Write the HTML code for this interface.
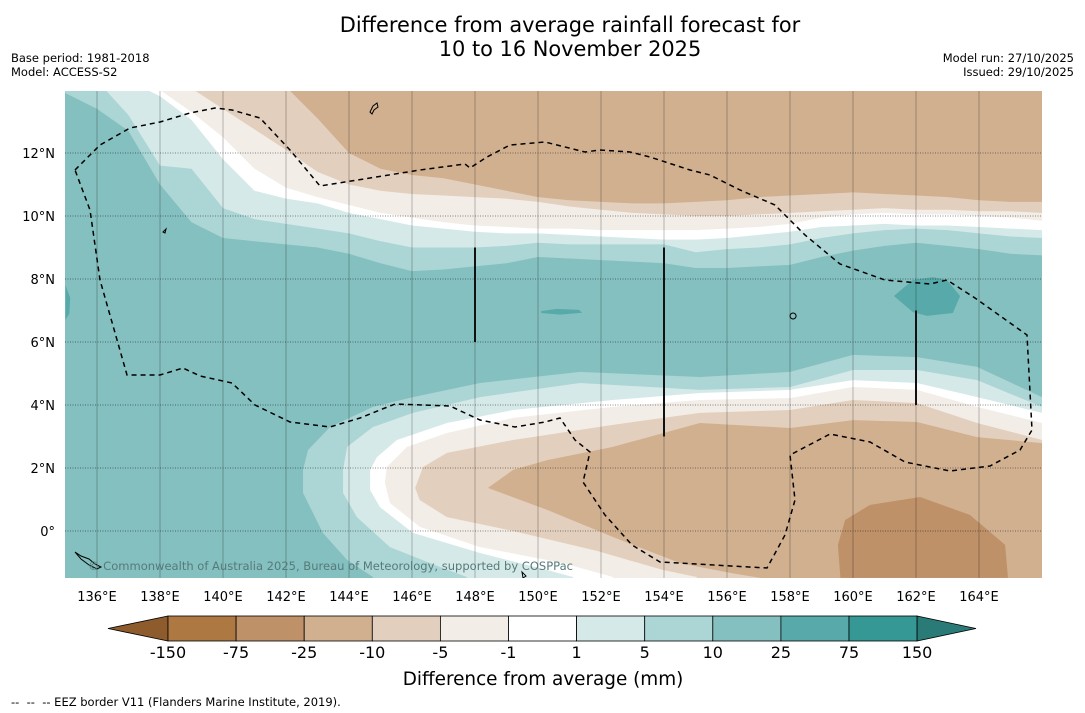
<!DOCTYPE html>
<html><head><meta charset="utf-8">
<style>
body{margin:0;background:#fff;font-family:"DejaVu Sans","Liberation Sans",sans-serif;}
#wrap{position:relative;width:1085px;height:713px;overflow:hidden;background:#fff;}
.t{position:absolute;white-space:nowrap;color:#000;}
</style></head>
<body>
<div id="wrap">
<div class="t" style="left:0;width:1140px;top:14px;text-align:center;font-size:20.9px;line-height:23.5px;">Difference from average rainfall forecast for<br>10 to 16 November 2025</div>
<div class="t" style="left:11px;top:51px;font-size:11.5px;line-height:14px;">Base period: 1981-2018<br>Model: ACCESS-S2</div>
<div class="t" style="right:11px;top:51px;font-size:11.5px;line-height:14px;text-align:right;">Model run: 27/10/2025<br>Issued: 29/10/2025</div>
<svg id="map" width="1085" height="713" style="position:absolute;left:0;top:0;"></svg>
<div class="t" style="left:11px;top:695px;font-size:11.5px;">--&nbsp; --&nbsp; -- EEZ border V11 (Flanders Marine Institute, 2019).</div>
</div>
<script>
const lons=[135,136,137,138,139,140,141,142,143,144,145,146,147,148,149,150,151,152,153,154,155,156,157,158,159,160,161,162,163,164,165,166];
const north10=[13.9,13.4,12.7,11.0,9.8,9.3,9.2,9.1,9.0,8.8,8.5,8.25,8.3,8.4,8.5,8.7,8.65,8.6,8.55,8.5,8.35,8.35,8.4,8.45,8.7,8.9,9.05,9.15,9.05,8.95,8.8,8.75];
const north5=[15,14.3,13.2,11.6,11.5,10.25,9.9,9.75,9.6,9.45,9.2,9.0,9.0,9.0,9.05,9.15,9.1,9.1,9.1,9.1,8.85,8.95,9.0,9.1,9.3,9.45,9.55,9.6,9.55,9.45,9.35,9.3];
const north1=[15,14.8,14.3,13.8,13.05,11.8,10.8,10.55,10.4,10.1,9.9,9.7,9.6,9.5,9.45,9.45,9.4,9.35,9.3,9.25,9.25,9.3,9.4,9.5,9.65,9.7,9.75,9.7,9.7,9.65,9.6,9.55];
const northM1=[15,15,14.6,14.0,13.3,12.5,11.5,10.9,10.6,10.35,10.1,9.95,9.8,9.7,9.65,9.6,9.6,9.55,9.55,9.55,9.55,9.6,9.65,9.75,9.95,10.05,10.1,10.05,10.05,10.0,9.95,9.85];
const northM5=[15.5,15.3,15,14.6,14.05,13.4,12.75,12.1,11.4,11.0,10.8,10.7,10.65,10.6,10.55,10.45,10.3,10.2,10.1,10.05,10.0,10.0,10.05,10.1,10.15,10.2,10.25,10.2,10.2,10.15,10.15,10.1];
const northM10=[16,16,16,16,16,16,16,14.1,13.1,12.0,11.5,11.3,11.2,11.0,10.8,10.6,10.5,10.45,10.4,10.4,10.45,10.5,10.6,10.65,10.7,10.75,10.7,10.65,10.6,10.5,10.45,10.45];
const south10=[[144.76,-1.46],[143.94,-0.92],[143.17,-0.06],[142.54,1.21],[142.54,1.94],[142.7,2.57],[143.4,3.3],[144.76,3.94],[146.03,4.25],[148.16,4.7],[151.33,5.05],[155.14,4.89],[158,5.05],[160,5.59],[162.03,5.52],[163.94,5.21],[166,4.25]];
const south5=[[147.74,-1.46],[146.88,-1.14],[145.3,-0.51],[144.25,0.44],[143.81,1.21],[143.81,1.94],[143.94,2.67],[144.76,3.3],[146.03,3.75],[148.16,4.25],[151.33,4.7],[155.14,4.48],[158,4.57],[160,5.11],[162.03,5.11],[163.94,4.79],[166,3.94]];
const south1=[[151.11,-1.46],[150.29,-1.24],[148.16,-0.7],[146.03,-0.06],[144.98,0.76],[144.67,1.3],[144.67,1.94],[144.89,2.35],[145.52,2.89],[147.11,3.43],[149.21,3.84],[152.38,4.16],[155.14,4.38],[158,4.48],[160,4.79],[162.03,4.7],[163.94,4.25],[166,3.75]];
const southM1=[[152.38,-1.46],[150.79,-1.02],[148.16,-0.51],[146.25,0.13],[145.3,0.89],[145.14,1.52],[145.2,2.03],[145.84,2.67],[147.11,3.11],[149.21,3.59],[152.38,3.94],[155.14,4.16],[158,4.22],[160,4.57],[162.03,4.48],[163.94,3.94],[166,3.43]];
const southM5=[[155.04,-1.46],[153.97,-1.24],[151.87,-0.63],[149.21,0],[147.11,0.44],[146.25,0.98],[146.1,1.37],[146.35,2.03],[147.11,2.48],[149.21,2.89],[152.38,3.37],[155.14,3.75],[158,3.84],[160,4.16],[162.03,4.06],[163.94,3.43],[166,2.89]];
const southM10=[[157.05,-1.49],[156.1,-1.33],[154.51,-1.02],[152.38,-0.19],[150.29,0.67],[148.41,1.37],[149.21,1.94],[150.29,2.25],[152.38,2.67],[155.14,3.43],[158,3.27],[160,3.52],[162.03,3.46],[163.94,2.98],[166,2.79]];
const blobM25=[[159.6,-1.49],[159.52,-0.44],[159.75,0.35],[160.54,0.83],[162.13,1.08],[163.71,0.51],[164.83,-0.44],[164.92,-1.49]];
const blob25=[[161.3,7.46],[161.9,7.97],[162.54,8.06],[162.98,7.97],[163.4,7.46],[163.17,6.92],[162.35,6.83],[161.9,6.95]];
const blob25b=[[150.1,6.98],[150.6,7.05],[151.3,7.02],[151.4,6.93],[150.7,6.87],[150.1,6.92]];
const blob25c=[[135,7.8],[135.15,7.4],[135.12,6.9],[135,6.7]];
const xTicks=[136,138,140,142,144,146,148,150,152,154,156,158,160,162,164];
const yTicks=[0,2,4,6,8,10,12];
const yTickLabels=["0°","2°N","4°N","6°N","8°N","10°N","12°N"];
const cbLevels=["-150","-75","-25","-10","-5","-1","1","5","10","25","75","150"];
const cbColors=["#ad7842","#bf9168","#d1b090","#e3cfbd","#f3ede7","#ffffff","#d5e9e8","#acd5d5","#84c0bf","#58a9a9","#369894"];
const eezLines=[[148,9,6],[154,9,3],[162,7,4]];

const FONT='DejaVu Sans, Liberation Sans, sans-serif';
const X=lon=>65.5+(lon-135)*31.5;
const Y=lat=>531-lat*31.5;
const NS="http://www.w3.org/2000/svg";
const svg=document.getElementById('map');
function mk(tag,attrs,parent){const e=document.createElementNS(NS,tag);for(const k in attrs)e.setAttribute(k,attrs[k]);(parent||svg).appendChild(e);return e;}

const defs=mk('defs',{});
const cp=mk('clipPath',{id:'clip'},defs);
mk('rect',{x:65,y:91,width:977,height:487},cp);
const g=mk('g',{'clip-path':'url(#clip)'});


const bg=mk('rect',{x:65,y:91,width:977,height:487,fill:'#84c0bf'},g);



function northPoly(arr,color,name){
  let pts=lons.map((l,i)=>X(l)+','+Y(arr[i]));
  pts.push(X(167)+','+Y(17),X(134)+','+Y(17));
  const p=mk('polygon',{points:pts.join(' '),fill:color},g);
  
  
}
function poly(arr,color,name,closeBottom){
  let pts=arr.map(q=>X(q[0])+','+Y(q[1]));
  if(closeBottom){pts.push(X(167)+','+Y(arr[arr.length-1][1]),X(167)+','+Y(-3),X(arr[0][0])+','+Y(-3));}
  const p=mk('polygon',{points:pts.join(' '),fill:color},g);
  
  
}
northPoly(north10,'#acd5d5','north-band-5-10');
northPoly(north5,'#d5e9e8','north-band-1-5');
northPoly(north1,'#ffffff','north-band-neutral');
northPoly(northM1,'#f3ede7','north-band-minus1-5');
northPoly(northM5,'#e3cfbd','north-band-minus5-10');
northPoly(northM10,'#d1b090','north-band-minus10-25');
poly(south10,'#acd5d5','south-band-5-10',true);
poly(south5,'#d5e9e8','south-band-1-5',true);
poly(south1,'#ffffff','south-band-neutral',true);
poly(southM1,'#f3ede7','south-band-minus1-5',true);
poly(southM5,'#e3cfbd','south-band-minus5-10',true);
poly(southM10,'#d1b090','south-band-minus10-25',true);
poly(blobM25,'#bf9168','south-band-minus25-75',false);
poly(blob25,'#58a9a9','wet-blob-east',false);
poly(blob25b,'#58a9a9','wet-blob-central',false);
poly(blob25c,'#58a9a9','wet-blob-west',false);

xTicks.forEach(l=>{const ln=mk('line',{x1:X(l),x2:X(l),y1:91,y2:578,stroke:'rgba(0,0,0,0.25)','stroke-width':1},g);

});
yTicks.forEach(l=>{const ln=mk('line',{x1:65,x2:1042,y1:Y(l),y2:Y(l),stroke:'rgba(0,0,0,0.45)','stroke-width':1,'stroke-dasharray':'1,1.5'},g);

});

const eez=mk('path',{d:'M75,170 L100,145 L130,128 L160,122 L190,113 L215,108 L232,110 L260,118 L290,150 L320,186 L370,178 L420,170 L465,164 L470,168 L487,157 L510,145 L545,142 L585,152 L600,150 L630,152 L650,157 L690,170 L710,175 L740,190 L775,205 L805,235 L840,264 L885,280 L930,284 L947,280 L975,298 L1027,335 L1032,430 L1020,450 L990,466 L950,471 L905,462 L870,442 L830,434 L790,455 L795,500 L785,535 L767,568 L660,562 L632,545 L605,515 L583,482 L590,452 L575,440 L560,418 L545,422 L515,427 L480,420 L450,406 L395,404 L360,418 L330,427 L290,422 L255,405 L232,383 L200,376 L183,368 L160,375 L127,375 L100,280 L90,210 Z',fill:'none',stroke:'#000','stroke-width':1.5,'stroke-dasharray':'5,4'},g);


eezLines.forEach(e=>{const ln=mk('line',{x1:X(e[0]),x2:X(e[0]),y1:Y(e[1]),y2:Y(e[2]),stroke:'#111','stroke-width':2},g);

});
const isl=mk('path',{d:'M370,112 l3,-6 l4,-3 l1,4 l-4,3 l-2,4 z M793,313 a3,3 0 1,0 0.1,0 M163,232 l3,-3 l-1,4 z M75,552 l6,4 l8,3 l6,5 l6,3 l-4,2 l-8,-4 l-8,-6 z M522,572 l4,4 l-3,2 z',fill:'none',stroke:'#000','stroke-width':1},g);



const cr=mk('text',{x:88,y:570,'font-size':11.5,fill:'#567a7a','font-family':FONT,textLength:485,lengthAdjust:'spacingAndGlyphs'},g);
cr.textContent='© Commonwealth of Australia 2025, Bureau of Meteorology, supported by COSPPac';



xTicks.forEach(l=>{const t=mk('text',{x:X(l),y:601,'font-size':13,'text-anchor':'middle','font-family':FONT});
t.textContent=l+'°E';

});
yTicks.forEach((l,i)=>{const t=mk('text',{x:55,y:Y(l)+5,'font-size':13,'text-anchor':'end','font-family':FONT});
t.textContent=yTickLabels[i];

});

const cb0=168,cbw=68.1,cy=616,ch=25;
const la=mk('polygon',{points:`108,${cy+ch/2} ${cb0},${cy} ${cb0},${cy+ch}`,fill:'#8d5b2c',stroke:'#000','stroke-width':0.8});


cbColors.forEach((c,i)=>{const r=mk('rect',{x:cb0+i*cbw,y:cy,width:cbw,height:ch,fill:c,stroke:'#000','stroke-width':0.8});

});
const endx=cb0+cbColors.length*cbw;
const ra=mk('polygon',{points:`${endx},${cy} 976,${cy+ch/2} ${endx},${cy+ch}`,fill:'#2a7a77',stroke:'#000','stroke-width':0.8});


cbLevels.forEach((v,i)=>{const t=mk('text',{x:cb0+i*cbw,y:658,'font-size':16,'text-anchor':'middle','font-family':FONT});
t.textContent=v;

});
const ct=mk('text',{x:543,y:685,'font-size':18.4,'text-anchor':'middle','font-family':FONT});
ct.textContent='Difference from average (mm)';


</script>
</body></html>
